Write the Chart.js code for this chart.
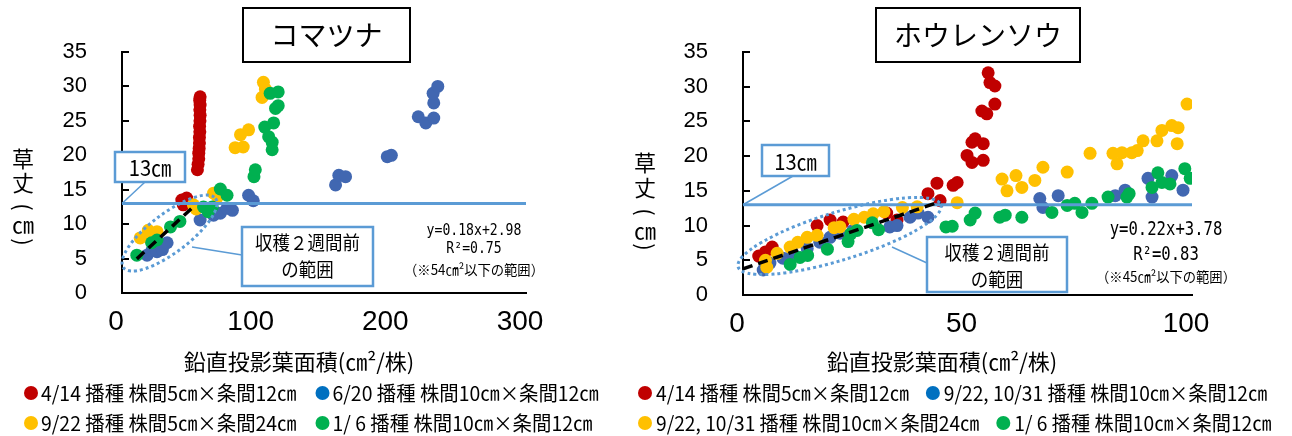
<!DOCTYPE html>
<html lang="ja">
<head>
<meta charset="utf-8">
<title>草丈と鉛直投影葉面積</title>
<script src="https://cdn.jsdelivr.net/npm/chart.js@4.4.1/dist/chart.umd.min.js"></script>
<style>
  html, body { margin: 0; padding: 0; background: #fff; }
  #stage { position: relative; width: 1292px; height: 436px; overflow: hidden; }
  #stage canvas { position: absolute; top: 0; }
  #komatsuna { left: 0; }
  #horenso { left: 630px; }
</style>
</head>
<body>
<div id="stage">
  <canvas id="komatsuna" width="646" height="436"></canvas>
  <canvas id="horenso" width="662" height="436"></canvas>
</div>
<script>
// ===== data =====
const HEIGHT_TICKS = [0, 5, 10, 15, 20, 25, 30, 35];
const TARGET_HEIGHT = 13;   // 収穫目安の草丈 (cm)

// コマツナ
const KOMATSUNA_AREA_TICKS = [0, 100, 200, 300];
const KOMATSUNA_LABELS = [
  '4/14 播種 株間5㎝×条間12㎝',
  '6/20 播種 株間10㎝×条間12㎝',
  '9/22 播種 株間5㎝×条間24㎝',
  '1/ 6 播種 株間10㎝×条間12㎝'
];
const KOMATSUNA_0414 = [
  [56, 17.9], [56.5, 18.7], [57, 19.5], [57, 20.3], [57.3, 21.0], [57.5, 21.8], [57.5, 22.6],
  [57.8, 23.4], [57.6, 24.2], [57.9, 25.0], [58, 25.8], [57.8, 26.6], [58, 27.3], [57.7, 28.0],
  [58, 28.5], [44.4, 13.5], [48, 13.8], [45.5, 12.8], [19.5, 8.4]
];
const KOMATSUNA_0620 = [
  [18.6, 5.5], [22.3, 6.2], [26, 6.0], [30, 6.3], [33.5, 7.3], [58, 10.6], [68, 11.3],
  [73, 11.6], [78, 12.3], [82, 12.0], [94, 14.2], [97.5, 13.4], [158.6, 15.7], [161, 17.1],
  [166, 16.9], [197, 19.8], [200, 20.0], [220, 25.6], [225.6, 24.7], [231.5, 25.4],
  [231.5, 27.6], [231, 29.0], [234.5, 30.0]
];
const KOMATSUNA_0922 = [
  [13.5, 8.0], [19.5, 9.1], [26, 8.9], [21, 7.8], [53, 12.8], [55, 12.2], [68, 14.5],
  [71, 14.0], [84, 21.1], [88, 23.0], [90, 21.2], [94, 23.7], [104, 28.4], [105, 30.6],
  [106.5, 29.6]
];
const KOMATSUNA_0106 = [
  [11, 5.5], [22, 7.3], [26, 7.7], [36, 9.6], [43, 10.4], [60.5, 12.5], [64, 11.8],
  [67, 12.5], [73, 15.1], [78, 14.2], [98, 16.9], [99, 17.9], [106, 24.1], [108.9, 22.7],
  [111.5, 21.9], [111.5, 20.8], [112.6, 24.7], [114, 26.8], [116, 27.2], [110, 29.0],
  [116, 29.2]
];
const KOMATSUNA_FIT = [0.18, 2.98];        // 傾き, 切片
const KOMATSUNA_FIT_RANGE = [11, 53];
const KOMATSUNA_R2 = 0.75;
const KOMATSUNA_FIT_LIMIT = 54;

// ホウレンソウ
const HORENSO_AREA_TICKS = [0, 50, 100];
const HORENSO_LABELS = [
  '4/14 播種 株間5㎝×条間12㎝',
  '9/22, 10/31 播種 株間10㎝×条間12㎝',
  '9/22, 10/31 播種 株間10㎝×条間24㎝',
  '1/ 6 播種 株間10㎝×条間12㎝'
];
const HORENSO_0414 = [
  [3.5, 5.6], [5, 6.2], [6.5, 6.9], [16.5, 10.0], [19.4, 10.8], [22.3, 10.5], [32, 11.8],
  [34.3, 10.8], [41.2, 14.6], [43.2, 16.1], [43.9, 13.6], [46.8, 15.8], [47.7, 16.2],
  [49.9, 20.1], [51, 19.1], [51, 22.0], [51.7, 22.5], [53.5, 21.8], [53.5, 19.4],
  [53.2, 26.5], [54.3, 26.1], [56.1, 27.5], [55, 30.6], [56.1, 30.1], [54.6, 32.0]
];
const HORENSO_1031_12 = [
  [4.5, 3.6], [6, 4.6], [8.9, 5.3], [11.1, 6.0], [14.3, 6.7], [17.1, 7.6], [19.4, 8.3],
  [21.6, 8.9], [24.5, 9.3], [32.7, 9.8], [34.3, 10.0], [37.2, 11.2], [39, 11.8], [41.2, 11.2],
  [66.1, 13.9], [66.8, 12.6], [70.2, 14.3], [82.9, 14.3], [85.1, 15.1], [90.2, 16.8],
  [91.1, 14.1], [95.5, 17.2], [98, 15.1]
];
const HORENSO_1031_24 = [
  [5.3, 4.0], [5, 5.0], [7.6, 6.0], [10.5, 6.9], [12.2, 7.6], [14.3, 8.3], [16.5, 8.6],
  [20.3, 9.7], [21.6, 9.8], [24.7, 10.9], [27, 11.2], [29, 11.7], [31.4, 12.0], [35.5, 12.6],
  [38.8, 12.7], [47.7, 13.3], [57.7, 16.7], [58.8, 15.0], [60.8, 17.2], [62.1, 15.5],
  [65, 16.5], [66.8, 18.4], [72.2, 17.7], [77.3, 20.4], [82.4, 20.4], [83.3, 18.9],
  [84.4, 20.5], [86.6, 20.5], [87.8, 20.8], [89.1, 22.2], [92.2, 22.2], [93.3, 23.7],
  [95.5, 24.4], [96.9, 24.1], [96.7, 21.8], [98.9, 27.5]
];
const HORENSO_0106 = [
  [10.5, 4.4], [12.7, 5.4], [14.4, 5.7], [18.8, 6.6], [23.4, 7.7], [24, 8.8], [25.4, 9.3],
  [28.8, 10.4], [30.2, 9.4], [45.2, 9.8], [46.6, 9.9], [50.6, 10.8], [51.7, 11.8],
  [57.2, 11.2], [58.4, 11.5], [62.1, 11.2], [68.8, 11.9], [72.2, 12.9], [73.9, 13.2],
  [75.5, 11.9], [77.7, 13.2], [81.3, 14.1], [85.5, 14.1], [86, 14.6], [91.1, 15.5],
  [92.4, 17.6], [93.3, 16.2], [95.1, 16.0], [98.4, 18.2], [99.6, 16.8]
];
const HORENSO_FIT = [0.22, 3.78];
const HORENSO_FIT_RANGE = [0, 44];
const HORENSO_R2 = 0.83;
const HORENSO_FIT_LIMIT = 45;

// ===== styling =====
const MARK_COLORS = ['#C00000', '#4167B1', '#FFC000', '#00B050'];
const LEGEND_COLORS = ['#C00000', '#0070C0', '#FFC000', '#00B050'];
const LINE_BLUE = '#5B9BD5';
const JP = '"Noto Sans CJK JP", "Noto Sans", sans-serif';
const MONO = '"DejaVu Sans Mono", monospace';

Chart.defaults.color = '#000';

function drawText(ctx, s, x, y, font, o = {}) {
  ctx.save();
  ctx.font = font;
  ctx.fillStyle = o.color || '#000';
  ctx.textAlign = o.align || 'center';
  ctx.textBaseline = 'middle';
  ctx.translate(x, y);
  if (o.rotate) ctx.rotate(o.rotate);
  ctx.scale(o.sx || 1, 1);
  ctx.fillText(s, 0, 0);
  const w = ctx.measureText(s).width * (o.sx || 1);
  ctx.restore();
  return w;
}

function strokeBox(ctx, b, color, width) {
  ctx.save();
  ctx.fillStyle = '#fff';
  ctx.fillRect(b.x, b.y, b.w, b.h);
  ctx.strokeStyle = color;
  ctx.lineWidth = width;
  ctx.strokeRect(b.x, b.y, b.w, b.h);
  ctx.restore();
}

function line(ctx, a, b, color, width) {
  ctx.save();
  ctx.strokeStyle = color;
  ctx.lineWidth = width;
  ctx.beginPath();
  ctx.moveTo(a[0], a[1]);
  ctx.lineTo(b[0], b[1]);
  ctx.stroke();
  ctx.restore();
}

// Boxes, callouts, ellipse, axis titles and legend drawn on top of the plot
function decorations(d) {
  return {
    id: 'decorations',
    afterDatasetsDraw(chart) {
      const ctx = chart.ctx;
      const xs = chart.scales.x, ys = chart.scales.y;
      const area = chart.chartArea;

      // inward tick marks on the height axis
      ctx.save();
      ctx.strokeStyle = '#000';
      ctx.lineWidth = 2;
      ys.ticks.forEach(t => {
        const py = Math.round(ys.getPixelForValue(t.value));
        ctx.beginPath();
        ctx.moveTo(area.left, py);
        ctx.lineTo(area.left + 7, py);
        ctx.stroke();
      });
      ctx.restore();

      // dotted ellipse around the pre-harvest range
      const e = d.ellipse;
      ctx.save();
      ctx.strokeStyle = LINE_BLUE;
      ctx.lineWidth = 3;
      ctx.setLineDash([3, 3]);
      ctx.beginPath();
      ctx.ellipse(xs.getPixelForValue(e.cx), ys.getPixelForValue(e.cy), e.rx, e.ry,
                  -e.angle * Math.PI / 180, 0, Math.PI * 2);
      ctx.stroke();
      ctx.restore();

      // 13cm callout
      const anchor = [xs.getPixelForValue(0), ys.getPixelForValue(TARGET_HEIGHT)];
      line(ctx, d.targetBox.from, anchor, LINE_BLUE, 1.5);
      strokeBox(ctx, d.targetBox, LINE_BLUE, 2.5);
      drawText(ctx, TARGET_HEIGHT + '㎝', d.targetBox.x + d.targetBox.w / 2,
               d.targetBox.y + d.targetBox.h / 2 + 1, '22px ' + JP, { sx: 0.92 });

      // 収穫2週間前 callout
      const h = d.harvestBox;
      line(ctx, h.from, h.to, LINE_BLUE, 1.5);
      strokeBox(ctx, h, LINE_BLUE, 2.5);
      drawText(ctx, '収穫２週間前', h.x + h.w / 2, h.y + h.l1, h.font, { sx: 0.92 });
      drawText(ctx, 'の範囲', h.x + h.w / 2, h.y + h.l2, h.font, { sx: 0.92 });
    },
    afterDraw(chart) {
      const ctx = chart.ctx;
      // title box
      const t = d.titleBox;
      strokeBox(ctx, t, '#000', 2);
      drawText(ctx, t.text, t.x + t.w / 2, t.y + t.h / 2, '28px ' + JP);

      // regression note
      const q = d.equation;
      drawText(ctx, 'y=' + q.fit[0].toFixed(2) + 'x+' + q.fit[1].toFixed(2), q.x, q.y[0], q.font, { sx: 0.82 });
      drawText(ctx, 'R²=' + q.r2.toFixed(2), q.x, q.y[1], q.font, { sx: 0.82 });
      drawText(ctx, '（※' + q.limit + '㎝²以下の範囲）', q.x, q.y[2], q.noteFont, { sx: 0.95 });

      // vertical height title: 草丈（㎝） stacked top to bottom
      const yt = d.yTitle;
      drawText(ctx, '草', yt.x, yt.y[0], '22px ' + JP);
      drawText(ctx, '丈', yt.x, yt.y[1], '22px ' + JP);
      drawText(ctx, '(', yt.x, yt.y[2], '22px ' + JP, { rotate: Math.PI / 2 });
      drawText(ctx, '㎝', yt.x, yt.y[3], '22px ' + JP);
      drawText(ctx, ')', yt.x, yt.y[4], '22px ' + JP, { rotate: Math.PI / 2 });

      // horizontal axis title
      drawText(ctx, '鉛直投影葉面積(㎝²/株)', d.xTitle.x, d.xTitle.y, '22px ' + JP);

      // legend (two rows)
      const lg = d.legend;
      lg.rows.forEach((row, r) => {
        let cx = lg.x;
        row.forEach(i => {
          ctx.save();
          ctx.fillStyle = LEGEND_COLORS[i];
          ctx.beginPath();
          ctx.arc(cx, lg.y[r], 7, 0, Math.PI * 2);
          ctx.fill();
          ctx.restore();
          const w = drawText(ctx, d.labels[i], cx + lg.gap, lg.y[r], lg.font, { align: 'left', sx: lg.sx });
          cx = cx + lg.gap + w + lg.next;
        });
      });
    }
  };
}

function buildChart(id, p) {
  const datasets = p.series.map((pts, i) => ({
    label: p.labels[i],
    data: pts.map(v => ({ x: v[0], y: v[1] })),
    backgroundColor: MARK_COLORS[i],
    borderColor: MARK_COLORS[i],
    pointRadius: 6.5,
    pointHoverRadius: 6.5,
    pointBorderWidth: 0,
    showLine: false,
    order: 20 - i
  }));
  const xt = p.xTicks;
  datasets.push({
    label: 'target',
    data: [{ x: xt[0], y: TARGET_HEIGHT }, { x: xt[xt.length - 1], y: TARGET_HEIGHT }],
    showLine: true, borderColor: LINE_BLUE, borderWidth: 3, pointRadius: 0, order: 1
  });
  const [a, b] = p.fit;
  datasets.push({
    label: 'fit',
    data: p.fitRange.map(x => ({ x: x, y: a * x + b })),
    showLine: true, borderColor: '#000', borderWidth: 3.5, borderDash: [10, 6],
    pointRadius: 0, order: 0
  });

  const canvas = document.getElementById(id);
  const W = canvas.width, H = canvas.height;
  const ar = p.area;
  return new Chart(canvas, {
    type: 'scatter',
    data: { datasets },
    options: {
      responsive: false,
      devicePixelRatio: 1,
      animation: false,
      events: [],
      layout: { padding: { top: ar.top, right: W - ar.right, left: 0, bottom: 0 } },
      plugins: { legend: { display: false }, tooltip: { enabled: false }, title: { display: false } },
      scales: {
        x: {
          type: 'linear',
          min: xt[0], max: xt[xt.length - 1],
          ticks: { stepSize: xt[1] - xt[0], maxRotation: 0, padding: 12, labelOffset: -6,
                   font: { family: '"Liberation Sans Narrow", sans-serif', size: 28 }, color: '#000' },
          grid: { display: true, drawOnChartArea: false, drawTicks: false },
          border: { display: true, color: '#000', width: 2 },
          afterFit(s) { s.height = H - ar.bottom; }
        },
        y: {
          type: 'linear',
          min: HEIGHT_TICKS[0], max: HEIGHT_TICKS[HEIGHT_TICKS.length - 1],
          ticks: { stepSize: HEIGHT_TICKS[1] - HEIGHT_TICKS[0], padding: 35,
                   font: { family: '"Liberation Sans", sans-serif', size: 22 }, color: '#000' },
          grid: { display: true, drawOnChartArea: false, drawTicks: false },
          border: { display: true, color: '#000', width: 2 },
          afterFit(s) { s.width = ar.left; }
        }
      }
    },
    plugins: [decorations(p.decor)]
  });
}

buildChart('komatsuna', {
  series: [KOMATSUNA_0414, KOMATSUNA_0620, KOMATSUNA_0922, KOMATSUNA_0106],
  labels: KOMATSUNA_LABELS,
  xTicks: KOMATSUNA_AREA_TICKS,
  fit: KOMATSUNA_FIT,
  fitRange: KOMATSUNA_FIT_RANGE,
  area: { left: 122, right: 526, top: 52, bottom: 293 },
  decor: {
    labels: KOMATSUNA_LABELS,
    titleBox: { x: 243, y: 8, w: 167, h: 54, text: 'コマツナ' },
    targetBox: { x: 115, y: 152, w: 70, h: 30, from: [145, 182] },
    harvestBox: { x: 242, y: 227, w: 131, h: 59, l1: 16, l2: 43, font: '19px ' + JP,
                  from: [192, 247], to: [242, 255] },
    ellipse: { cx: 35.3, cy: 8.7, rx: 57.6, ry: 19.5, angle: 37 },
    equation: { x: 474, y: [231, 249, 270], fit: KOMATSUNA_FIT, r2: KOMATSUNA_R2,
                limit: KOMATSUNA_FIT_LIMIT, font: '16px ' + MONO, noteFont: '14px ' + JP },
    yTitle: { x: 23, y: [159, 183, 207, 225, 242] },
    xTitle: { x: 299, y: 362 },
    legend: { x: 31, y: [393, 423], rows: [[0, 1], [2, 3]], gap: 10, next: 26,
              font: '20px ' + JP, sx: 0.97 }
  }
});

buildChart('horenso', {
  series: [HORENSO_0414, HORENSO_1031_12, HORENSO_1031_24, HORENSO_0106],
  labels: HORENSO_LABELS,
  xTicks: HORENSO_AREA_TICKS,
  fit: HORENSO_FIT,
  fitRange: HORENSO_FIT_RANGE,
  area: { left: 113, right: 562, top: 52, bottom: 295 },
  decor: {
    labels: HORENSO_LABELS,
    titleBox: { x: 246, y: 8, w: 204, h: 54, text: 'ホウレンソウ' },
    targetBox: { x: 132, y: 145, w: 67, h: 31, from: [163, 176] },
    harvestBox: { x: 297, y: 237, w: 140, h: 55, l1: 16, l2: 43, font: '19px ' + JP,
                  from: [262, 247], to: [297, 263] },
    ellipse: { cx: 21.5, cy: 8.5, rx: 106, ry: 24, angle: 17 },
    equation: { x: 536, y: [230, 255, 277], fit: HORENSO_FIT, r2: HORENSO_R2,
                limit: HORENSO_FIT_LIMIT, font: '19px ' + MONO, noteFont: '14px ' + JP },
    yTitle: { x: 15, y: [163, 188, 212, 231, 247] },
    xTitle: { x: 312, y: 362 },
    legend: { x: 15, y: [393, 423], rows: [[0, 1], [2, 3]], gap: 11, next: 24,
              font: '20px ' + JP, sx: 0.96 }
  }
});
</script>
</body>
</html>
